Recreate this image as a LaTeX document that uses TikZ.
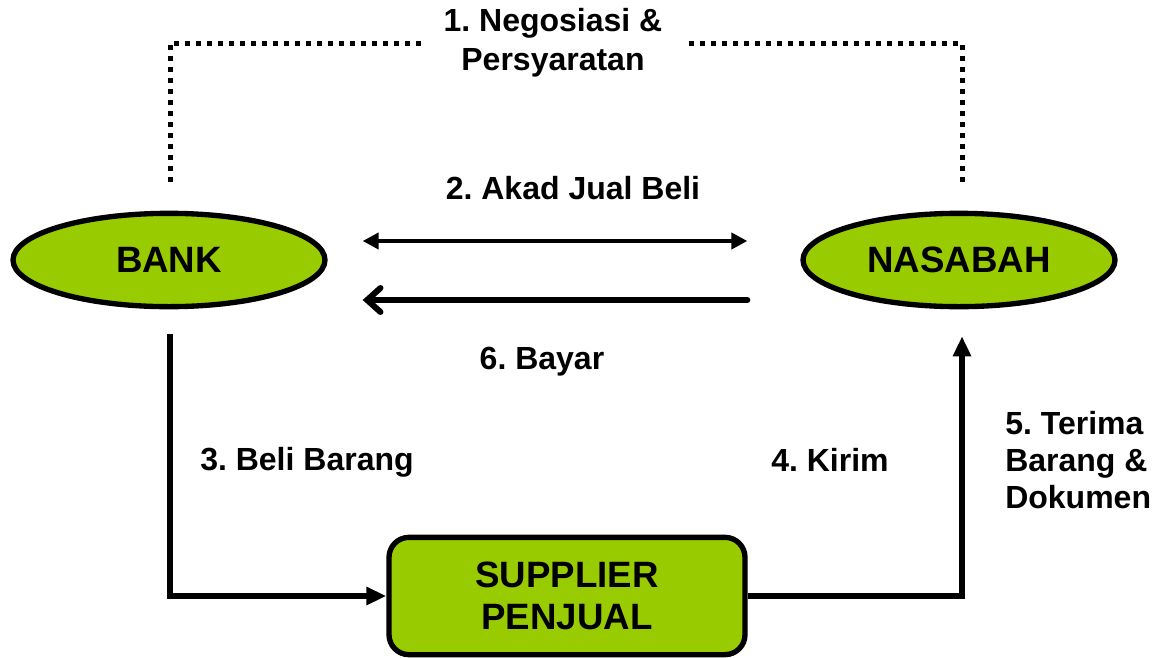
\documentclass[tikz,border=0pt]{standalone}
\usepackage{fontspec}
\setmainfont{Liberation Sans}
\frenchspacing
\usepackage{tikz}
\usetikzlibrary{arrows.meta}
\usetikzlibrary{shapes.geometric}
\usetikzlibrary{positioning}
\usetikzlibrary{calc}
\definecolor{LeafGreen}{RGB}{153,204,0}
\tikzset{
  party/.style={ellipse,draw=black,line width=4pt,fill=LeafGreen,inner sep=0pt,
    minimum width=234pt,minimum height=70pt,font=\fontsize{27.5}{31}\selectfont\bfseries},
  seller/.style={rectangle,rounded corners=15pt,draw=black,line width=4pt,fill=LeafGreen,
    minimum width=267pt,minimum height=88pt,align=center,font=\fontsize{27.5}{31.5}\selectfont\bfseries},
  steplabel/.style={inner sep=0pt,align=center,font=\fontsize{24}{28}\selectfont\bfseries},
  flow/.style={line width=4pt,-{Triangle[length=15pt,width=13pt]}},
  dotline/.style={line width=3.75pt,dash pattern=on 3.75pt off 4.5pt}
}
\begin{document}
\begin{tikzpicture}[line cap=butt,line join=miter,x=0.75pt,y=-0.75pt]
\useasboundingbox (0,0) rectangle (1160,657);
\node[party] (bank) at (169,260) {BANK};
\node[party] (nasabah) at (959,260) {NASABAH};
\node[seller] (supplier) at (567,596) {SUPPLIER\\PENJUAL};
% labels
\node[steplabel,inner xsep=17pt,font=\fontsize{24}{29}\selectfont\bfseries] (nego) at (553,43) {1. Negosiasi \&\\Persyaratan};
\node[steplabel] (akad) at (573,188) {2. Akad Jual Beli};
\node[steplabel] (beli) at (307,462) {3. Beli Barang};
\node[steplabel] (kirim) at (830,460) {4. Kirim};
\node[steplabel,anchor=west,align=left,font=\fontsize{24}{27.75}\selectfont\bfseries] (terima) at (1005,460) {5. Terima\\Barang \&\\Dokumen};
\node[steplabel] (bayar) at (542,362) {6. Bayar};
% connectors
\draw[dotline] ($(bank.north)+(1,-29)$) |- (nego.west);
\draw[dotline] ($(nasabah.north)+(3,-29)$) |- (nego.east);
\draw[line width=3.5pt,{Triangle[length=12pt,width=12pt]}-{Triangle[length=12pt,width=12pt]}]
  ($(bank.east)+(35,-19)$) -- ($(nasabah.west)+(-53,-19)$);
\draw[line width=4.5pt,line cap=round,-{Straight Barb[length=10pt,width=18pt,line cap=round]}]
  ($(nasabah.west)+(-53,40)$) -- ($(bank.east)+(35,40)$);
\draw[flow] ($(bank.south)+(1,25)$) |- (supplier.west);
\draw[flow] (supplier.east) -| ($(nasabah.south)+(3,27)$);
\end{tikzpicture}
\end{document}
